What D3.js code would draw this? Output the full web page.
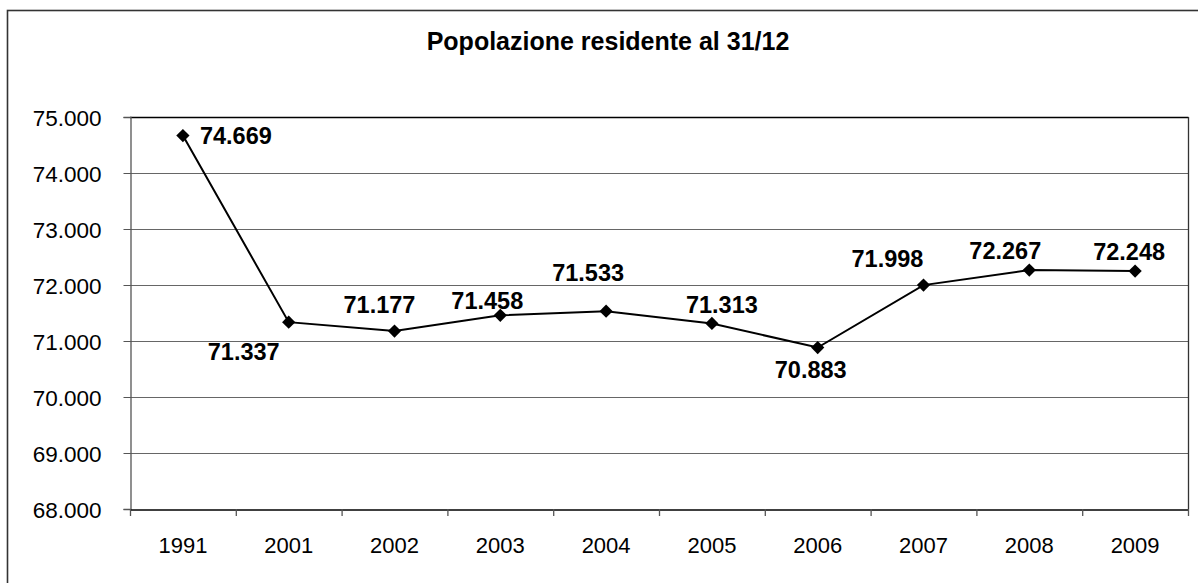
<!DOCTYPE html>
<html><head><meta charset="utf-8">
<script src="https://cdn.jsdelivr.net/npm/d3@7/dist/d3.min.js"></script>
<style>body{margin:0;background:#fff}svg{display:block}</style>
</head><body>
<svg id="c" width="1198" height="583"></svg>
<script>
const categories = ["1991","2001","2002","2003","2004","2005","2006","2007","2008","2009"];
const values = [74669, 71337, 71177, 71458, 71533, 71313, 70883, 71998, 72267, 72248];
const yTicks = [68000, 69000, 70000, 71000, 72000, 73000, 74000, 75000];
const title = "Popolazione residente al 31/12";
// label placement relative to each point: [dx, dy, anchor]
const labelPlacement = [[17,8,"start"],[-45,38,"middle"],[-15,-18,"middle"],[-13,-6,"middle"],[-18,-30,"middle"],[10,-10,"middle"],[-7,30,"middle"],[-36,-18,"middle"],[-24,-11,"middle"],[-6,-11,"middle"]];

const loc = d3.formatLocale({decimal:",", thousands:".", grouping:[3], currency:["€",""]});
const fmt = loc.format(",d");

const svg = d3.select("#c");
const font = "'Liberation Sans', Arial, sans-serif";
const L = 130, R = 1188, T = 117, B = 509;

// outer frame (cropped on right and bottom)
svg.append("rect").attr("x",7.5).attr("y",10.5).attr("width",1300).attr("height",700)
  .attr("fill","none").attr("stroke","#333").attr("stroke-width",1.6);

svg.append("text").attr("x",608).attr("y",50).attr("text-anchor","middle")
  .attr("font-family",font).attr("font-weight","bold").attr("font-size",25)
  .attr("fill","#000").text(title);

const x = d3.scaleBand().domain(categories).range([L,R]);
const y = d3.scaleLinear().domain([68000,75000]).range([B,T]);

// gridlines
svg.append("g").selectAll("line").data(yTicks.filter(v=>v>68000&&v<75000)).join("line")
  .attr("x1",L).attr("x2",R).attr("y1",d=>Math.round(y(d))+0.5).attr("y2",d=>Math.round(y(d))+0.5)
  .attr("stroke","#666").attr("stroke-width",1);

// plot frame top/right
svg.append("line").attr("x1",L).attr("x2",R+0.5).attr("y1",T+0.5).attr("y2",T+0.5).attr("stroke","#000").attr("stroke-width",1.3);
svg.append("line").attr("x1",R+0.5).attr("x2",R+0.5).attr("y1",T).attr("y2",B).attr("stroke","#333").attr("stroke-width",1.3);

// y axis
const yAxis = d3.axisLeft(y).tickValues(yTicks).tickFormat(fmt).tickSize(7).tickPadding(22);
const gy = svg.append("g").attr("transform",`translate(${L+0.5},0)`).call(yAxis);
gy.select(".domain").attr("stroke","#555").attr("stroke-width",1.3);
gy.selectAll(".tick line").attr("stroke","#555");
gy.selectAll(".tick text").attr("font-family",font).attr("font-size",22.5).attr("fill","#000").attr("dy","0.36em");

// x axis
const xAxis = d3.axisBottom(x).tickSize(0).tickPadding(0);
const gx = svg.append("g").attr("transform",`translate(0,${B+0.5})`).call(xAxis);
gx.select(".domain").attr("stroke","#000").attr("stroke-width",1.3);
gx.selectAll(".tick text").attr("font-family",font).attr("font-size",22).attr("fill","#000").attr("y",43).attr("dy",0);
// category separator ticks
svg.append("g").selectAll("line").data(categories.concat(["end"])).join("line")
  .attr("x1",(d,i)=> (i<categories.length? x(d) : R) + 0.5)
  .attr("x2",(d,i)=> (i<categories.length? x(d) : R) + 0.5)
  .attr("y1",B).attr("y2",B+7).attr("stroke","#555").attr("stroke-width",1.3);

// line
const pts = categories.map((c,i)=>({c, v:values[i], i}));
const line = d3.line().x(d=>x(d.c)+x.bandwidth()/2).y(d=>y(d.v));
svg.append("path").datum(pts).attr("d",line).attr("fill","none").attr("stroke","#000").attr("stroke-width",2);

const sym = d3.symbol().type(d3.symbolSquare).size(88);
svg.append("g").selectAll("path").data(pts).join("path")
  .attr("d",sym).attr("fill","#000")
  .attr("transform",d=>`translate(${x(d.c)+x.bandwidth()/2},${y(d.v)}) rotate(45)`);

svg.append("g").selectAll("text").data(pts).join("text")
  .attr("x",d=>x(d.c)+x.bandwidth()/2+labelPlacement[d.i][0])
  .attr("y",d=>y(d.v)+labelPlacement[d.i][1])
  .attr("text-anchor",d=>labelPlacement[d.i][2])
  .attr("font-family",font).attr("font-weight","bold").attr("font-size",23.5).attr("fill","#000")
  .text(d=>fmt(d.v));
</script>
</body></html>
